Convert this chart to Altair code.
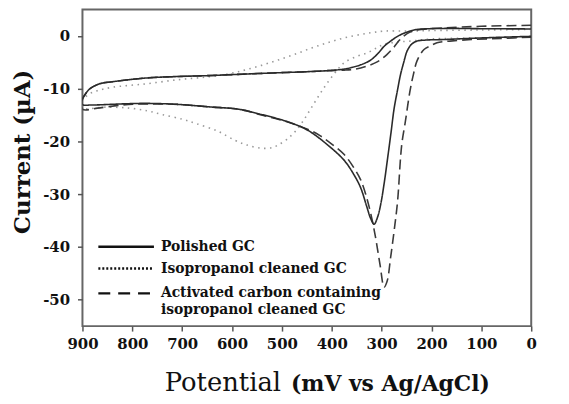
import altair as alt
import pandas as pd

series_names = ["Polished GC", "Isopropanol cleaned GC",
                "Activated carbon containing isopropanol cleaned GC"]

# Polished GC (solid) - closed loop: upper branch 0 -> 900 mV, lower branch 900 -> 0 mV
polished_mv = [0, 100, 175, 229, 243, 255, 268, 282, 295, 308, 322, 342, 360, 375, 408, 450, 508, 587, 650, 707, 773, 840, 866, 886, 896, 900,
               900, 880, 820, 773, 707, 641, 587, 541, 488, 448, 408, 375, 355, 342, 330, 322, 315, 308,
               302, 295, 288, 281, 275, 268, 262, 255, 249, 240, 229, 210, 175, 100, 0]
polished_ua = [1.3, 1.35, 1.4, 1.2, 0.9, 0.5, -0.1, -1.0, -2.0, -3.4, -4.6, -5.5, -6.0, -6.3, -6.6, -6.8, -7.0, -7.3, -7.55, -7.7, -8.0, -8.7, -9.1, -10.1, -11.3, -12.0,
               -13.0, -13.1, -12.9, -12.8, -13.0, -13.5, -13.9, -14.9, -16.3, -17.9, -20.7, -23.6, -26.4, -28.8, -32.3, -34.6, -35.7, -34.3,
               -32.0, -28.0, -23.2, -18.2, -13.8, -10.2, -7.3, -4.8, -2.9, -1.6, -1.0, -0.8, -0.7, -0.4, -0.1]

# Isopropanol cleaned GC (dotted)
iso_mv = [0, 100, 200, 250, 295, 320, 342, 375, 408, 440, 474, 508, 541, 575, 607, 650, 707, 773, 840, 870, 886, 900,
          900, 850, 806, 770, 741, 700, 673, 630, 594, 570, 541, 520, 508, 490, 474, 458, 442, 425, 408, 390,
          375, 350, 328, 310, 295, 270, 243, 200, 100, 0]
iso_ua = [1.2, 1.1, 1.0, 0.9, 0.9, 0.6, 0.25, -0.4, -1.3, -2.3, -3.5, -4.6, -5.6, -6.5, -7.2, -7.8, -8.3, -9.1, -9.75, -10.4, -11.0, -12.3,
          -13.6, -13.5, -13.7, -14.2, -14.9, -15.8, -16.6, -18.0, -19.8, -20.7, -21.3, -21.2, -20.7, -19.6, -18.2, -16.2, -13.8, -11.2, -8.8, -6.6,
          -5.1, -3.9, -3.2, -2.3, -1.6, -1.2, -1.0, -0.6, -0.4, -0.2]

# Activated carbon containing isopropanol cleaned GC (dashed)
ac_mv = [0, 100, 175, 229, 243, 255, 265, 275, 290, 308, 325, 342, 360, 375, 408, 450, 508, 587, 650, 707, 773, 840, 866, 886, 896, 900,
         900, 870, 820, 773, 707, 641, 587, 541, 500, 462, 441, 422, 400, 375, 355, 342, 332, 322, 312, 303,
         295, 289, 282, 275, 268, 262, 259, 253, 243, 236, 229, 215, 200, 189, 163, 120, 60, 0]
ac_ua = [2.0, 1.8, 1.5, 1.1, 0.7, 0.0, -0.9, -2.1, -3.6, -4.9, -5.6, -6.1, -6.4, -6.5, -6.6, -6.8, -7.0, -7.3, -7.55, -7.7, -8.0, -8.7, -9.1, -10.1, -11.3, -12.0,
         -13.9, -13.7, -13.1, -12.9, -13.0, -13.5, -13.9, -15.0, -16.0, -17.2, -18.0, -19.0, -20.5, -22.5, -25.1, -27.3, -30.0, -33.6, -38.3, -43.5,
         -47.6, -46.5, -42.0, -37.0, -31.3, -23.0, -20.1, -16.6, -10.4, -7.2, -4.75, -2.6, -1.8, -1.3, -1.0, -0.7, -0.5, -0.25]

x_ticks = [900, 800, 700, 600, 500, 400, 300, 200, 100, 0]
y_ticks = [-50, -40, -30, -20, -10, 0]

frames = []
for name, mv, ua in [(series_names[1], iso_mv, iso_ua),
                     (series_names[2], ac_mv, ac_ua),
                     (series_names[0], polished_mv, polished_ua)]:
    frames.append(pd.DataFrame({"mv": mv, "ua": ua, "series": name, "idx": range(len(mv))}))
df = pd.concat(frames, ignore_index=True)

SERIF = "DejaVu Serif"
colors = ["#2a2a2a", "#999999", "#3a3a3a"]
dashes = [[1, 0], [1.5, 4.5], [10, 5]]

lines = alt.Chart(df).mark_line(strokeWidth=1.6, clip=True, interpolate="catmull-rom").encode(
    x=alt.X("mv:Q", scale=alt.Scale(domain=[0, 900], reverse=True, nice=False, zero=False),
            axis=alt.Axis(values=x_ticks, title=None, grid=False, domain=False, tickSize=5,
                          tickWidth=1.5, tickColor="#555", labelFont=SERIF, labelFontWeight="bold",
                          labelFontSize=15, labelColor="#111", labelPadding=6, labelFlush=False)),
    y=alt.Y("ua:Q", scale=alt.Scale(domain=[-55, 5], nice=False, zero=False),
            axis=alt.Axis(values=y_ticks, grid=False, domain=False, tickSize=5, tickWidth=1.5,
                          tickColor="#555", labelFont=SERIF, labelFontWeight="bold", labelFontSize=15,
                          labelColor="#111", labelPadding=8, labelExpr="'' + datum.value",
                          title="Current (µA)", titleFont=SERIF, titleFontWeight="bold",
                          titleFontSize=23, titleColor="#111", titleAngle=270, titleX=-48, titleY=143,
                          titleAlign="center", titleBaseline="bottom")),
    color=alt.Color("series:N", scale=alt.Scale(domain=series_names, range=colors), legend=None),
    strokeDash=alt.StrokeDash("series:N", scale=alt.Scale(domain=series_names, range=dashes), legend=None),
    detail="series:N",
    order="idx:Q",
)

one = pd.DataFrame({"a": [0]})

# manual legend
leg_rows = [239, 261, 286]
leg_dash = [[1, 0], [2, 2], [12, 8]]
leg_text = [("Polished GC", 239), ("Isopropanol cleaned GC", 261),
            ("Activated carbon containing", 286), ("isopropanol cleaned GC", 303)]
layers = [lines]
for yy, dd in zip(leg_rows, leg_dash):
    layers.append(alt.Chart(one).mark_rule(color="#111", strokeWidth=2.5, strokeDash=dd).encode(
        x=alt.value(16), x2=alt.value(72), y=alt.value(yy)))
for txt, yy in leg_text:
    layers.append(alt.Chart(one).mark_text(text=txt, font=SERIF, fontWeight="bold", fontSize=14,
                                           color="#111", align="left", baseline="middle").encode(
        x=alt.value(79), y=alt.value(yy)))

# x-axis title (regular + bold parts)
layers.append(alt.Chart(one).mark_text(text="Potential", font=SERIF, fontSize=26, color="#111",
                                       align="right", baseline="alphabetic").encode(
    x=alt.value(200), y=alt.value(384)))
layers.append(alt.Chart(one).mark_text(text="(mV vs Ag/AgCl)", font=SERIF, fontWeight="bold", fontSize=22,
                                       color="#111", align="left", baseline="alphabetic").encode(
    x=alt.value(210), y=alt.value(384)))

chart = alt.layer(*layers).properties(
    width=452, height=319,
    padding={"left": 75, "top": 0, "right": 30, "bottom": 77},
    autosize=alt.AutoSizeParams(type="none"),
    background="white",
).configure_view(stroke="#666", strokeWidth=2)

chart.save("out.html", embed_options={"renderer": "svg", "actions": False})
